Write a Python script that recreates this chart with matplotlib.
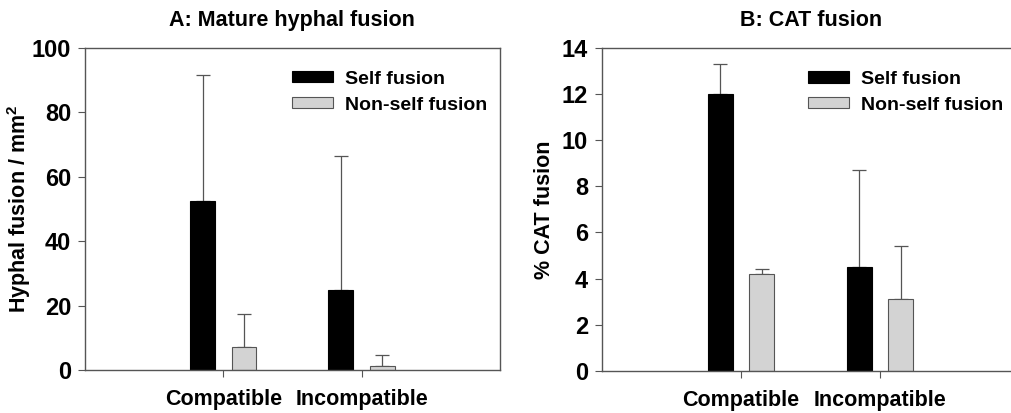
import matplotlib
matplotlib.use("Agg")
import matplotlib.pyplot as plt
import numpy as np

plt.rcParams['font.family'] = ['Liberation Sans', 'DejaVu Sans']
plt.rcParams['font.weight'] = 'bold'
plt.rcParams['mathtext.fontset'] = 'custom'
plt.rcParams['mathtext.bf'] = 'Liberation Sans:bold'
plt.rcParams['mathtext.rm'] = 'Liberation Sans:bold'

categories = ['Compatible', 'Incompatible']
series = ['Self fusion', 'Non-self fusion']

# Panel A: mature hyphal fusion per mm2
hyphal_self = [52.5, 25.0]
hyphal_self_err = [39.0, 41.6]
hyphal_nonself = [7.3, 1.4]
hyphal_nonself_err = [10.0, 3.2]

# Panel B: % CAT fusion
cat_self = [12.0, 4.5]
cat_self_err = [1.3, 4.2]
cat_nonself = [4.2, 3.1]
cat_nonself_err = [0.2, 2.3]

edge_gray = '#555555'
light_gray = '#d3d3d3'

fig = plt.figure(figsize=(10.11, 4.13), dpi=100)
axA = fig.add_axes([0.084, 0.104, 0.4105, 0.780])
axB = fig.add_axes([0.5955, 0.102, 0.4125, 0.782])


def draw_panel(ax, self_vals, self_err, non_vals, non_err, ymax, ystep, title, ylabel,
               legend_x, ylabel_x):
    x = np.arange(1, len(categories) + 1)
    w = 0.18
    off = 0.15
    zeros = [0] * len(categories)
    ax.bar(x - off, self_vals, w, color='black', edgecolor='black', lw=0.8,
           label=series[0], zorder=2)
    ax.bar(x + off, non_vals, w, color=light_gray, edgecolor=edge_gray, lw=0.8,
           label=series[1], zorder=2)
    ax.errorbar(x - off, self_vals, yerr=[zeros, self_err], fmt='none', ecolor=edge_gray,
                elinewidth=0.9, capsize=5, capthick=0.9, zorder=1)
    ax.errorbar(x + off, non_vals, yerr=[zeros, non_err], fmt='none', ecolor=edge_gray,
                elinewidth=0.9, capsize=5, capthick=0.9, zorder=1)

    ax.set_xlim(0, 3)
    ax.set_ylim(0, ymax)
    ax.set_yticks(np.arange(0, ymax + 0.1, ystep))
    ax.set_xticks(x)
    ax.set_xticklabels(categories, fontsize=15.5, fontweight='bold')
    ax.tick_params(axis='y', labelsize=17, direction='out', length=5, color=edge_gray, pad=5)
    ax.tick_params(axis='x', direction='out', length=5, color=edge_gray, pad=9)
    for lab in ax.get_yticklabels():
        lab.set_fontweight('bold')
    for sp in ax.spines.values():
        sp.set_color(edge_gray)
        sp.set_linewidth(1.0)

    ax.set_title(title, fontsize=15.5, fontweight='bold', pad=16)
    ax.set_ylabel(ylabel, fontsize=15.5, fontweight='bold')
    ax.yaxis.set_label_coords(ylabel_x, 0.5)
    ax.legend(loc='upper left', bbox_to_anchor=(legend_x, 0.965), frameon=False,
              fontsize=14, handlelength=2.1, handleheight=0.5, handletextpad=0.6,
              labelspacing=0.45, borderaxespad=0.2)


draw_panel(axA, hyphal_self, hyphal_self_err, hyphal_nonself, hyphal_nonself_err,
           100, 20, 'A: Mature hyphal fusion', r'Hyphal fusion / mm$^\mathbf{2}$',
           0.472, -0.125)
draw_panel(axB, cat_self, cat_self_err, cat_nonself, cat_nonself_err,
           14, 2, 'B: CAT fusion', '% CAT fusion', 0.466, -0.113)

plt.savefig('out.png', dpi=100)
